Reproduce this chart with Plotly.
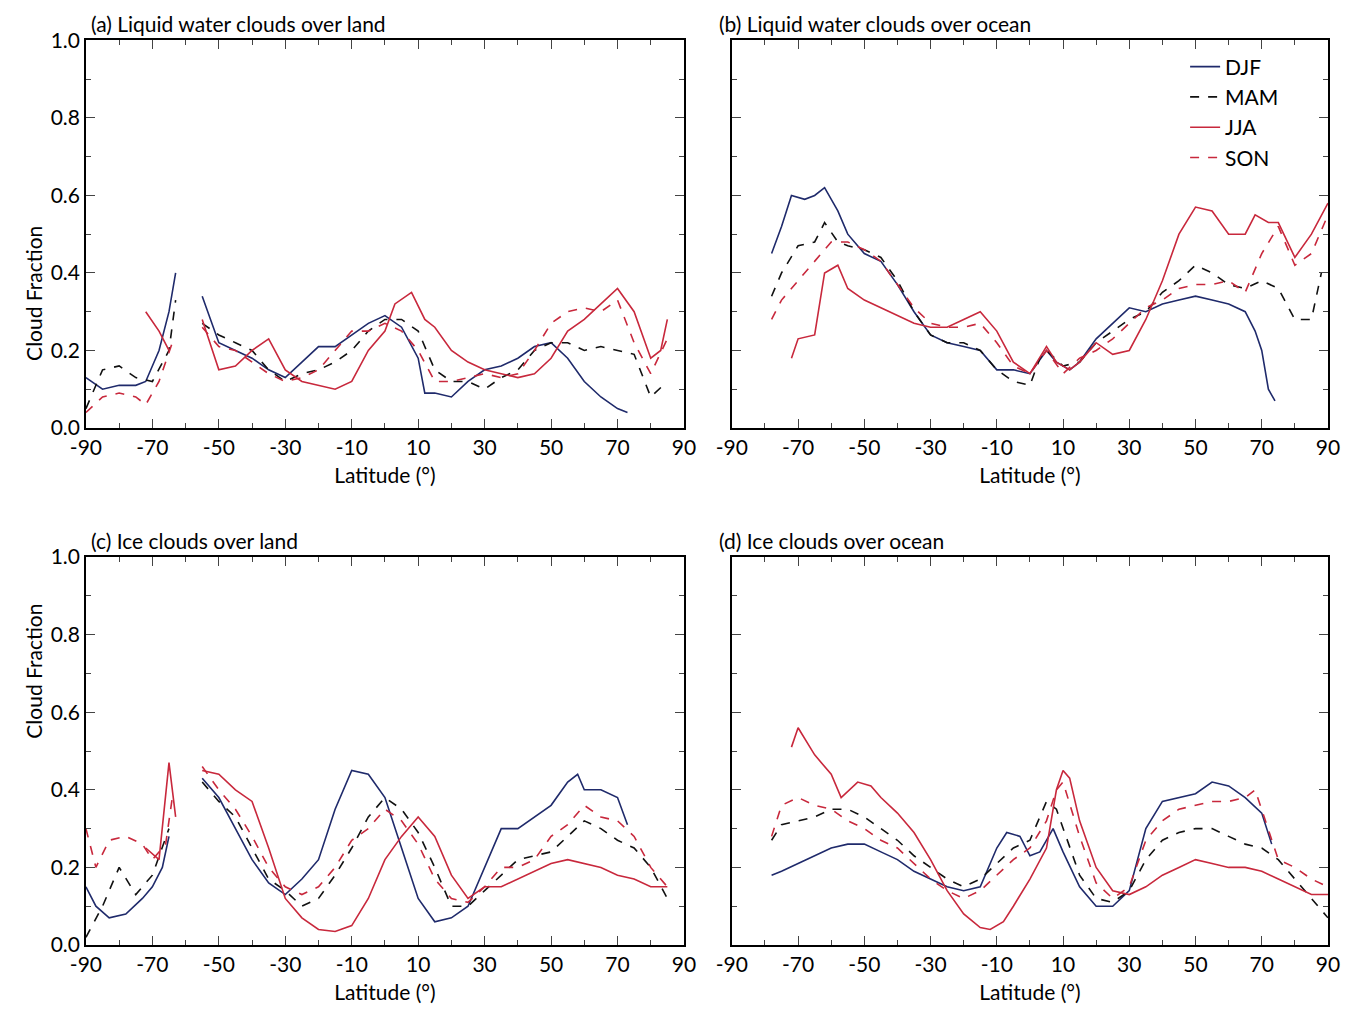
import plotly.graph_objects as go
N=None
# (a) liquid land
a_djf_x=[-90,-85,-80,-75,-72,-68,-65,-63,-60,-55,-50,-45,-40,-35,-30,-25,-20,-15,-10,-5,0,5,10,12,15,20,25,30,35,40,45,50,55,60,65,70,73]
a_djf_y=[0.13,0.10,0.11,0.11,0.12,0.2,0.3,0.40,N,0.34,0.22,0.2,0.18,0.15,0.13,0.17,0.21,0.21,0.24,0.27,0.29,0.26,0.18,0.09,0.09,0.08,0.12,0.15,0.16,0.18,0.21,0.22,0.18,0.12,0.08,0.05,0.04]
a_mam_x=[-90,-85,-80,-75,-70,-65,-63,-60,-55,-50,-45,-40,-35,-30,-25,-20,-15,-10,-5,0,5,10,15,20,25,30,35,40,45,50,55,60,65,70,75,80,85]
a_mam_y=[0.05,0.15,0.16,0.13,0.12,0.2,0.33,N,0.27,0.24,0.22,0.2,0.15,0.12,0.14,0.15,0.17,0.2,0.25,0.28,0.28,0.25,0.15,0.12,0.12,0.1,0.13,0.15,0.2,0.22,0.22,0.2,0.21,0.2,0.19,0.08,0.12]
a_jja_x=[-72,-68,-65,-60,-55,-50,-45,-40,-35,-30,-25,-20,-15,-10,-5,0,3,8,12,15,20,25,30,35,40,45,50,55,60,65,70,75,80,83,85]
a_jja_y=[0.3,0.25,0.2,N,0.28,0.15,0.16,0.2,0.23,0.15,0.12,0.11,0.1,0.12,0.2,0.25,0.32,0.35,0.28,0.26,0.2,0.17,0.15,0.14,0.13,0.14,0.18,0.25,0.28,0.32,0.36,0.3,0.18,0.2,0.28]
a_son_x=[-90,-85,-80,-75,-72,-68,-64,-60,-55,-50,-45,-40,-35,-30,-25,-20,-15,-10,-5,0,5,10,15,20,25,30,35,40,45,50,55,60,65,70,75,80,85]
a_son_y=[0.04,0.08,0.09,0.08,0.06,0.12,0.22,N,0.26,0.21,0.2,0.17,0.14,0.12,0.13,0.15,0.2,0.25,0.25,0.27,0.25,0.2,0.12,0.12,0.13,0.14,0.13,0.14,0.2,0.27,0.3,0.31,0.3,0.33,0.22,0.14,0.23]
# (b) liquid ocean
b_djf_x=[-78,-75,-72,-68,-65,-62,-58,-55,-50,-45,-40,-35,-30,-25,-20,-15,-10,-5,0,5,8,12,15,20,25,30,35,40,45,50,55,60,65,68,70,72,74]
b_djf_y=[0.45,0.52,0.6,0.59,0.6,0.62,0.56,0.5,0.45,0.43,0.37,0.3,0.24,0.22,0.21,0.2,0.15,0.15,0.14,0.2,0.17,0.15,0.17,0.23,0.27,0.31,0.3,0.32,0.33,0.34,0.33,0.32,0.3,0.25,0.2,0.1,0.07]
b_mam_x=[-78,-75,-70,-65,-62,-58,-55,-50,-45,-40,-35,-30,-25,-20,-15,-10,-5,0,3,5,10,15,20,25,30,35,40,45,50,55,60,65,70,75,80,85,88]
b_mam_y=[0.34,0.4,0.47,0.48,0.53,0.48,0.47,0.46,0.44,0.38,0.3,0.24,0.22,0.22,0.2,0.15,0.12,0.11,0.18,0.2,0.16,0.17,0.22,0.25,0.28,0.3,0.35,0.38,0.42,0.4,0.37,0.36,0.38,0.36,0.28,0.28,0.4]
b_jja_x=[-72,-70,-65,-62,-58,-55,-50,-45,-40,-35,-30,-25,-20,-15,-10,-5,0,5,8,12,15,20,25,30,35,40,45,50,55,60,65,68,72,75,80,85,90]
b_jja_y=[0.18,0.23,0.24,0.4,0.42,0.36,0.33,0.31,0.29,0.27,0.26,0.26,0.28,0.3,0.25,0.17,0.14,0.21,0.17,0.15,0.17,0.22,0.19,0.2,0.28,0.38,0.5,0.57,0.56,0.5,0.5,0.55,0.53,0.53,0.44,0.5,0.58]
b_son_x=[-78,-75,-70,-65,-60,-55,-50,-45,-40,-35,-30,-25,-20,-15,-10,-5,0,5,10,15,20,25,30,35,40,45,50,55,60,65,70,75,80,85,90]
b_son_y=[0.28,0.33,0.38,0.43,0.48,0.48,0.46,0.43,0.37,0.31,0.27,0.26,0.26,0.27,0.22,0.16,0.14,0.2,0.14,0.18,0.2,0.23,0.27,0.31,0.33,0.36,0.37,0.37,0.38,0.35,0.45,0.52,0.42,0.45,0.55]
# (c) ice land
c_djf_x=[-90,-87,-83,-78,-73,-70,-67,-65,-60,-55,-50,-45,-40,-35,-30,-25,-20,-15,-10,-5,0,5,10,15,20,25,30,35,40,45,50,55,58,60,65,70,73]
c_djf_y=[0.15,0.1,0.07,0.08,0.12,0.15,0.2,0.28,N,0.43,0.38,0.3,0.22,0.16,0.13,0.17,0.22,0.35,0.45,0.44,0.38,0.25,0.12,0.06,0.07,0.1,0.2,0.3,0.3,0.33,0.36,0.42,0.44,0.4,0.4,0.38,0.31]
c_mam_x=[-90,-85,-80,-75,-70,-65,-60,-55,-50,-45,-40,-35,-30,-25,-20,-15,-10,-5,0,5,10,15,20,25,30,35,40,45,50,55,60,65,70,75,80,85]
c_mam_y=[0.02,0.1,0.2,0.13,0.18,0.3,N,0.42,0.37,0.33,0.25,0.17,0.14,0.1,0.12,0.18,0.25,0.33,0.38,0.35,0.29,0.2,0.1,0.1,0.14,0.18,0.22,0.23,0.24,0.28,0.32,0.3,0.27,0.25,0.2,0.12]
c_jja_x=[-72,-68,-65,-63,-60,-55,-50,-45,-40,-35,-30,-25,-20,-15,-10,-5,0,5,10,15,20,25,30,35,40,45,50,55,60,65,70,75,80,85]
c_jja_y=[0.25,0.22,0.47,0.33,N,0.45,0.44,0.4,0.37,0.25,0.12,0.07,0.04,0.035,0.05,0.12,0.22,0.28,0.33,0.28,0.18,0.12,0.15,0.15,0.17,0.19,0.21,0.22,0.21,0.2,0.18,0.17,0.15,0.15]
c_son_x=[-90,-87,-83,-78,-73,-70,-66,-64,-60,-55,-50,-45,-40,-35,-30,-25,-20,-15,-10,-5,0,5,10,15,20,25,30,35,40,45,50,55,60,65,70,75,80,85]
c_son_y=[0.3,0.2,0.27,0.28,0.26,0.22,0.26,0.38,N,0.46,0.4,0.35,0.28,0.2,0.15,0.13,0.15,0.2,0.27,0.3,0.35,0.32,0.26,0.17,0.12,0.11,0.15,0.2,0.2,0.22,0.28,0.31,0.36,0.33,0.32,0.28,0.2,0.15]
# (d) ice ocean
d_djf_x=[-78,-75,-70,-65,-60,-55,-50,-45,-40,-35,-30,-25,-20,-15,-10,-7,-3,0,3,7,10,15,20,25,30,35,40,45,50,55,60,65,70,73]
d_djf_y=[0.18,0.19,0.21,0.23,0.25,0.26,0.26,0.24,0.22,0.19,0.17,0.15,0.14,0.15,0.25,0.29,0.28,0.23,0.24,0.3,0.24,0.15,0.1,0.1,0.14,0.3,0.37,0.38,0.39,0.42,0.41,0.38,0.34,0.26]
d_mam_x=[-78,-75,-70,-65,-60,-55,-50,-45,-40,-35,-30,-25,-20,-15,-10,-5,0,5,8,12,15,20,25,30,35,40,45,50,55,60,65,70,75,80,85,90]
d_mam_y=[0.27,0.31,0.32,0.33,0.35,0.35,0.33,0.3,0.27,0.23,0.2,0.17,0.15,0.17,0.21,0.25,0.27,0.37,0.35,0.25,0.18,0.12,0.11,0.14,0.22,0.27,0.29,0.3,0.3,0.28,0.26,0.25,0.22,0.17,0.12,0.07]
d_jja_x=[-72,-70,-65,-60,-57,-52,-48,-45,-40,-35,-30,-25,-20,-15,-12,-8,-5,0,5,8,10,12,15,20,25,30,35,40,45,50,55,60,65,70,75,80,85,90]
d_jja_y=[0.51,0.56,0.49,0.44,0.38,0.42,0.41,0.38,0.34,0.29,0.22,0.14,0.08,0.045,0.04,0.06,0.1,0.17,0.25,0.4,0.45,0.43,0.32,0.2,0.14,0.13,0.15,0.18,0.2,0.22,0.21,0.2,0.2,0.19,0.17,0.15,0.13,0.13]
d_son_x=[-78,-75,-70,-65,-60,-55,-50,-45,-40,-35,-30,-25,-20,-15,-10,-5,0,5,8,10,15,20,25,30,35,40,45,50,55,60,65,68,72,75,80,85,90]
d_son_y=[0.28,0.36,0.38,0.36,0.35,0.32,0.3,0.27,0.25,0.21,0.17,0.14,0.12,0.14,0.18,0.22,0.25,0.32,0.4,0.42,0.28,0.16,0.12,0.15,0.27,0.32,0.35,0.36,0.37,0.37,0.38,0.4,0.3,0.22,0.2,0.17,0.15]

seasons=["DJF","MAM","JJA","SON"]
titles=["(a) Liquid water clouds over land","(b) Liquid water clouds over ocean","(c) Ice clouds over land","(d) Ice clouds over ocean"]
xticks=[-90,-70,-50,-30,-10,10,30,50,70,90]
yticks=[0.0,0.2,0.4,0.6,0.8,1.0]
styles={"DJF":dict(color="#1f2a6b",dash="solid"),"MAM":dict(color="#111111",dash="dash"),
        "JJA":dict(color="#c8283c",dash="solid"),"SON":dict(color="#c8283c",dash="dash")}
data=[[(a_djf_x,a_djf_y),(a_mam_x,a_mam_y),(a_jja_x,a_jja_y),(a_son_x,a_son_y)],
      [(b_djf_x,b_djf_y),(b_mam_x,b_mam_y),(b_jja_x,b_jja_y),(b_son_x,b_son_y)],
      [(c_djf_x,c_djf_y),(c_mam_x,c_mam_y),(c_jja_x,c_jja_y),(c_son_x,c_son_y)],
      [(d_djf_x,d_djf_y),(d_mam_x,d_mam_y),(d_jja_x,d_jja_y),(d_son_x,d_son_y)]]
F="Lato"
fig=go.Figure()
xd=[[0.0576,0.4996],[0.535,0.9756]]
yd=[[0.585,0.968],[0.0741,0.4575]]
for i in range(4):
    r,c=divmod(i,2)
    n=str(i+1) if i else ""
    for s,(xs,ys) in zip(seasons,data[i]):
        fig.add_trace(go.Scatter(x=xs,y=ys,mode="lines",name=s,showlegend=(i==1),
            line=dict(width=1.6,**styles[s]),xaxis="x"+n,yaxis="y"+n,connectgaps=False))
    ax=dict(domain=xd[c],range=[-90,90],tickvals=xticks,ticktext=[str(v) for v in xticks],
            ticks="inside",ticklen=9,mirror="ticks",automargin=False,
            showline=True,linecolor="black",linewidth=1.5,showgrid=False,zeroline=False,
            tickfont=dict(size=21,family=F,color="black"),
            title=dict(text="Latitude (°)",font=dict(size=21,family=F,color="black"),standoff=10),
            anchor="y"+n,minor=dict(ticks="inside",ticklen=5,dtick=10,tick0=-90))
    ay=dict(domain=yd[r],range=[0,1],tickvals=yticks,ticktext=[f"{v:.1f}" for v in yticks] if c==0 else ["" for v in yticks],
            ticks="inside",ticklen=9,mirror="ticks",showline=True,linecolor="black",linewidth=1.5,automargin=False,
            showgrid=False,zeroline=False,tickfont=dict(size=21,family=F,color="black"),anchor="x"+n,
            minor=dict(ticks="inside",ticklen=5,dtick=0.1))
    fig.layout["xaxis"+n]=ax
    fig.layout["yaxis"+n]=ay
    if c==0:
        fig.add_annotation(text="Cloud Fraction",xref="paper",yref="paper",x=0.008,y=sum(yd[r])/2+0.01,
            textangle=-90,showarrow=False,font=dict(size=21,family=F,color="black"))
    fig.add_annotation(text=titles[i],xref="paper",yref="paper",x=xd[c][0]+(0.002 if c==0 else -0.011),
        y=yd[r][1]+0.002,xanchor="left",yanchor="bottom",showarrow=False,font=dict(size=21,family=F,color="black"))
fig.update_layout(width=1353,height=1012,margin=dict(l=0,r=0,t=0,b=0),plot_bgcolor="white",paper_bgcolor="white",
    legend=dict(x=0.87,y=0.962,xanchor="left",yanchor="top",bgcolor="rgba(0,0,0,0)",
                font=dict(size=21,family=F,color="black"),tracegroupgap=0))
fig.write_html("out.html")
